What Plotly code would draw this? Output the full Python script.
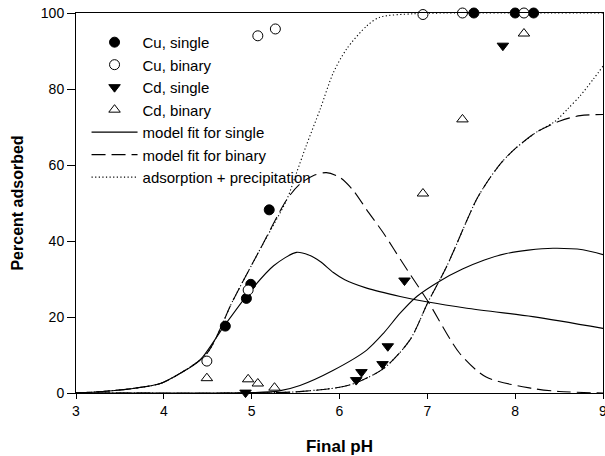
import plotly.graph_objects as go

# ---- measured data ----
cu_single_x = [4.70, 4.94, 4.99, 5.20, 7.53, 8.00, 8.21]
cu_single_y = [17.6, 24.9, 28.6, 48.2, 100, 100, 100]

cu_binary_x = [4.49, 4.96, 5.07, 5.27, 6.95, 7.40, 8.10]
cu_binary_y = [8.4, 27.1, 94.0, 95.8, 99.6, 100, 100]

cd_single_x = [4.93, 6.19, 6.25, 6.49, 6.55, 6.74, 7.86]
cd_single_y = [0.1, 3.4, 5.5, 7.6, 12.3, 29.6, 91.4]

cd_binary_x = [4.49, 4.96, 5.07, 5.26, 6.95, 7.40, 8.10]
cd_binary_y = [3.9, 3.6, 2.5, 1.4, 52.5, 72.0, 94.6]

# model fit for single (Cu)
fit_cu_single_x = [3.0, 3.3, 3.65, 3.96, 4.18, 4.41, 4.68, 4.98, 5.25, 5.51, 5.65, 5.78, 5.93, 6.06, 6.31, 6.69, 6.99, 7.45, 8.2, 9.0]
fit_cu_single_y = [0, 0.4, 1.2, 2.5, 5.1, 8.6, 17.4, 26.7, 33.5, 37.0, 36.3, 34.6, 31.7, 29.8, 27.6, 25.4, 24.0, 22.3, 20.1, 17.0]

# model fit for single (Cd)
fit_cd_single_x = [3.0, 4.5, 5.0, 5.3, 5.55, 5.93, 6.31, 6.5, 6.69, 6.88, 7.13, 7.4, 7.65, 7.9, 8.15, 8.43, 8.77, 9.0]
fit_cd_single_y = [0, 0, 0.1, 0.5, 2.0, 6.0, 11.3, 15.7, 21.0, 25.4, 29.3, 32.6, 35.0, 36.7, 37.6, 38.1, 37.7, 36.4]

# model fit for binary (Cu)
fit_cu_binary_x = [3.0, 3.3, 3.65, 3.96, 4.18, 4.49, 4.79, 5.1, 5.4, 5.55, 5.7, 5.85, 6.0, 6.15, 6.31, 6.5, 6.72, 7.01, 7.37, 7.67, 8.2, 8.5, 9.0]
fit_cu_binary_y = [0, 0.4, 1.2, 2.5, 5.1, 10.4, 24.5, 38.0, 50.9, 55.0, 57.2, 58.0, 56.8, 53.5, 48.2, 42.1, 34.2, 24.0, 10.4, 4.2, 1.2, 0.4, 0]

# model fit for binary (Cd)
fit_cd_binary_x = [3.0, 5.0, 5.5, 6.0, 6.19, 6.5, 6.8, 7.01, 7.22, 7.56, 7.71, 7.85, 8.0, 8.24, 8.51, 8.74, 9.0]
fit_cd_binary_y = [0, 0, 0.3, 1.5, 2.7, 6.4, 13.9, 24.0, 33.3, 50.9, 56.5, 60.8, 64.3, 68.6, 71.6, 73.0, 73.3]

# adsorption + precipitation (Cu)
prec_cu_x = [3.0, 3.3, 3.65, 3.96, 4.18, 4.49, 4.79, 5.1, 5.4, 5.51, 5.62, 5.78, 5.93, 6.08, 6.31, 6.46, 6.84, 7.2, 9.0]
prec_cu_y = [0, 0.4, 1.2, 2.5, 5.1, 10.4, 24.5, 38.0, 50.9, 57.9, 65.0, 74.7, 84.3, 90.5, 96.6, 98.9, 99.8, 100, 100]

# adsorption + precipitation (Cd)
prec_cd_x = [3.0, 5.0, 5.5, 6.0, 6.19, 6.5, 6.8, 7.01, 7.22, 7.56, 7.71, 7.85, 8.0, 8.24, 8.45, 8.6, 8.74, 8.89, 9.0]
prec_cd_y = [0, 0, 0.3, 1.5, 2.7, 6.4, 13.9, 24.0, 33.3, 50.9, 56.5, 60.8, 64.3, 68.6, 71.4, 74.8, 78.2, 82.6, 86.0]

FONT = "Liberation Sans, Arial, sans-serif"
LW = 1.1

fig = go.Figure()

def line(x, y, dash, name, show, rank, width=LW):
    fig.add_trace(go.Scatter(
        x=x, y=y, mode="lines", name=name, showlegend=show, legendrank=rank,
        line=dict(color="black", width=width, dash=dash, shape="spline", smoothing=0.8),
        hoverinfo="skip"))

line(prec_cu_x, prec_cu_y, "1.2px,2.4px", "adsorption + precipitation", True, 7)
line(prec_cd_x, prec_cd_y, "1.2px,2.4px", "adsorption + precipitation", False, 7)
line(fit_cu_binary_x, fit_cu_binary_y, "14px,6px", "model fit for binary", True, 6)
line(fit_cd_binary_x, fit_cd_binary_y, "14px,6px", "model fit for binary", False, 6)
line(fit_cu_single_x, fit_cu_single_y, "solid", "model fit for single", True, 5)
line(fit_cd_single_x, fit_cd_single_y, "solid", "model fit for single", False, 5)

def pts(x, y, symbol, fill, name, rank):
    fig.add_trace(go.Scatter(
        x=x, y=y, mode="markers", name=name, legendrank=rank, cliponaxis=False,
        marker=dict(symbol=symbol, size=10, color=fill,
                    line=dict(color="black", width=1))))

pts(cu_single_x, cu_single_y, "circle", "black", "Cu, single", 1)
pts(cu_binary_x, cu_binary_y, "circle", "white", "Cu, binary", 2)
pts(cd_single_x, cd_single_y, "triangle-down", "black", "Cd, single", 3)
pts(cd_binary_x, cd_binary_y, "triangle-up", "white", "Cd, binary", 4)

fig.update_layout(
    width=605, height=456,
    margin=dict(l=76, r=2, t=13, b=63),
    paper_bgcolor="white", plot_bgcolor="white",
    font=dict(family=FONT, color="black", size=14),
    legend=dict(x=0.02, y=0.966, xanchor="left", yanchor="top",
                bgcolor="rgba(0,0,0,0)", font=dict(size=15, family=FONT),
                tracegroupgap=0, itemwidth=46),
    xaxis=dict(range=[3, 9], dtick=1, tick0=3, ticks="outside", ticklen=5,
               tickcolor="black", showline=True, linecolor="black", linewidth=1,
               mirror=True, showgrid=False, zeroline=False, automargin=False,
               ticklabeloverflow="allow",
               tickfont=dict(size=14, family=FONT),
               title=dict(text="<b>Final pH</b>", font=dict(size=17, family=FONT), standoff=28)),
    yaxis=dict(range=[0, 100], dtick=20, ticks="outside", ticklen=8,
               tickcolor="black", showline=True, linecolor="black", linewidth=1,
               mirror=True, showgrid=False, zeroline=False, automargin=False,
               tickfont=dict(size=14, family=FONT),
               title=dict(text="<b>Percent adsorbed</b>", font=dict(size=16, family=FONT), standoff=13)),
)

post = ("document.body.style.margin='0';document.body.style.padding='0';"
        "document.body.style.overflow='hidden';"
        "Plotly.relayout('{plot_id}', {width:605, height:456});")
fig.write_html("out.html", post_script=post,
               config={"responsive": False, "displayModeBar": False})
